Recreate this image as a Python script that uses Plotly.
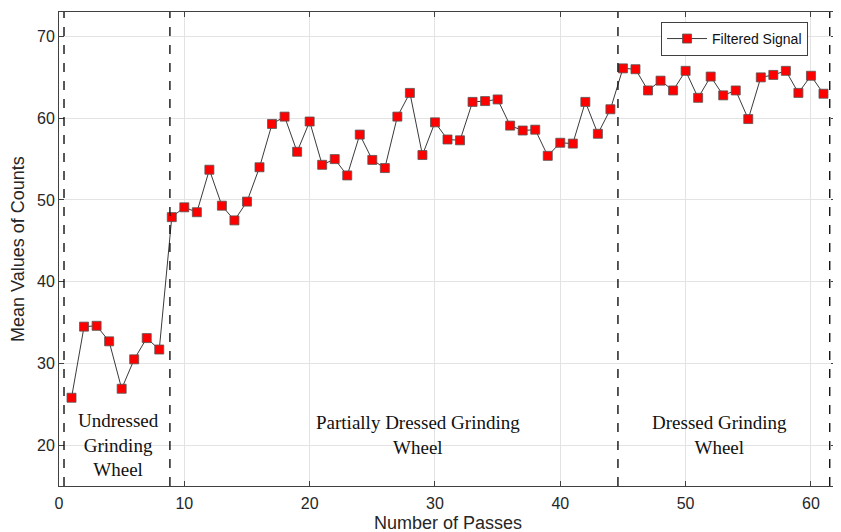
import plotly.graph_objects as go

passes = list(range(1, 62))
mean_counts = [
    25.8, 34.5, 34.6, 32.7, 26.9, 30.5, 33.1, 31.7, 47.9, 49.1,
    48.5, 53.7, 49.3, 47.5, 49.8, 54.0, 59.3, 60.2, 55.9, 59.6,
    54.3, 55.0, 53.0, 58.0, 54.9, 53.9, 60.2, 63.1, 55.5, 59.5,
    57.4, 57.3, 62.0, 62.1, 62.3, 59.1, 58.5, 58.6, 55.4, 57.0,
    56.9, 62.0, 58.1, 61.1, 66.1, 66.0, 63.4, 64.6, 63.4, 65.8,
    62.5, 65.1, 62.8, 63.4, 59.9, 65.0, 65.3, 65.8, 63.1, 65.2,
    63.0,
]
boundaries = [0.4, 8.85, 44.6, 61.5]
region_labels = ["Undressed<br>Grinding<br>Wheel",
                 "Partially Dressed Grinding<br>Wheel",
                 "Dressed Grinding<br>Wheel"]
region_x = [4.75, 28.65, 52.7]
region_y = [20.0, 21.2, 21.2]
x_ticks = [0, 10, 20, 30, 40, 50, 60]
y_ticks = [20, 30, 40, 50, 60, 70]
x_title = "Number of Passes"
y_title = "Mean Values of Counts"

fig = go.Figure()
fig.add_trace(go.Scatter(
    x=passes, y=mean_counts, mode="lines+markers", name="Filtered Signal",
    line=dict(color="#3a3a3a", width=1),
    marker=dict(symbol="square", size=9, color="#ff0000",
                line=dict(color="#555555", width=0.8)),
))
for b in boundaries:
    fig.add_vline(x=b, line=dict(color="#111111", width=1.4, dash="dash"))

for t, xx, yy in zip(region_labels, region_x, region_y):
    fig.add_annotation(x=xx, y=yy, text=t, showarrow=False,
                       font=dict(family="Liberation Serif", size=19, color="#111111"),
                       xanchor="center", yanchor="middle")

# axis titles
fig.add_annotation(x=0.5, y=0, xref="paper", yref="paper", text=x_title,
                   showarrow=False, xanchor="center", yanchor="middle", yshift=-37,
                   font=dict(family="Liberation Sans", size=18, color="#262626"))
fig.add_annotation(x=0, y=0.5, xref="paper", yref="paper", text=y_title,
                   showarrow=False, textangle=-90, xanchor="center", yanchor="middle",
                   xshift=-41,
                   font=dict(family="Liberation Sans", size=18, color="#262626"))

axis_common = dict(showline=True, linecolor="#404040", linewidth=1, mirror="ticks",
                   ticks="inside", ticklen=5, tickcolor="#404040", automargin=False,
                   showgrid=True, gridcolor="#e3e3e3", gridwidth=1, zeroline=False,
                   tickfont=dict(family="Liberation Sans", size=16, color="#262626"))

fig.update_xaxes(range=[0, 62], tickvals=x_ticks, ticklabelstandoff=3, **axis_common)
fig.update_yaxes(range=[15, 73], tickvals=y_ticks, **axis_common)

fig.update_layout(
    width=841, height=532,
    margin=dict(l=51, r=13, t=4, b=54),
    plot_bgcolor="white", paper_bgcolor="white",
    showlegend=True,
    legend=dict(x=0.964, y=0.979, xanchor="right", yanchor="top",
                bgcolor="white", bordercolor="#404040", borderwidth=1,
                font=dict(family="Liberation Sans", size=14, color="#111111"),
                itemwidth=40),
)
fig.write_html("out.html")
